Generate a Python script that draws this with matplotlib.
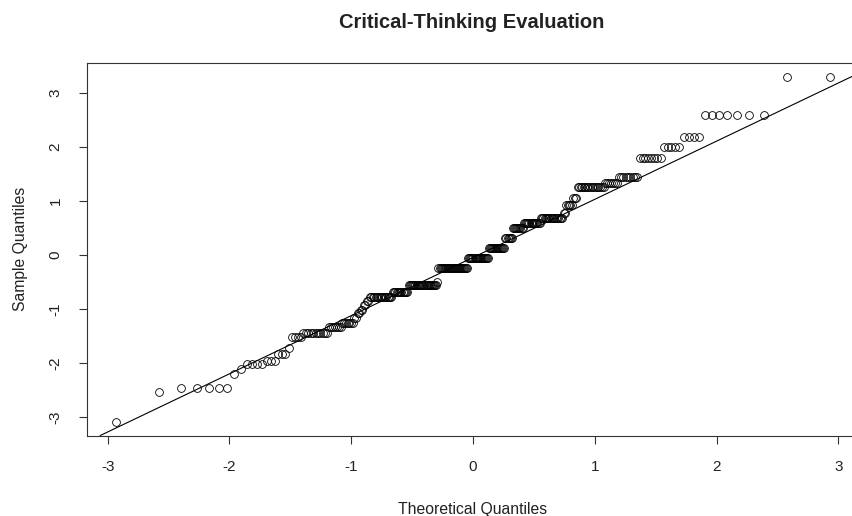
import numpy as np
import matplotlib
matplotlib.use("Agg")
import matplotlib.pyplot as plt
from statistics import NormalDist

matplotlib.rcParams["font.family"] = ["Liberation Sans", "DejaVu Sans"]

# standardized critical-thinking scores: distinct values and how often each occurs
score_levels = [-3.08, -2.53, -2.45, -2.20, -2.10, -2.01, -1.96, -1.83, -1.72, -1.51,
                -1.44, -1.33, -1.26, -1.16, -1.08, -1.02, -0.93, -0.85, -0.77, -0.68,
                -0.55, -0.50, -0.24, -0.06, 0.13, 0.31, 0.50, 0.59, 0.68, 0.77,
                0.92, 1.06, 1.25, 1.33, 1.44, 1.80, 2.00, 2.18, 2.58, 3.30]
score_counts = [1, 1, 5, 1, 1, 4, 3, 3, 1, 4,
                11, 7, 7, 2, 2, 2, 2, 2, 17, 13,
                26, 1, 29, 20, 16, 7, 10, 15, 18, 2,
                5, 3, 17, 7, 9, 8, 5, 4, 7, 2]
x_ticks = [-3, -2, -1, 0, 1, 2, 3]
y_ticks = [-3, -2, -1, 0, 1, 2, 3]

sample = np.sort(np.repeat(score_levels, score_counts))
n = len(sample)

# normal scores like R's qqnorm (ppoints with a = 1/2)
nd = NormalDist()
probs = (np.arange(1, n + 1) - 0.5) / n
theo = np.array([nd.inv_cdf(p) for p in probs])

# qqline through the first and third quartiles
q1, q3 = np.percentile(sample, [25, 75])
z1, z3 = nd.inv_cdf(0.25), nd.inv_cdf(0.75)
slope = (q3 - q1) / (z3 - z1)
intercept = q1 - slope * z1

fig = plt.figure(figsize=(8.53, 5.16), dpi=100)
ax = fig.add_axes([0.102, 0.156, 0.905, 0.7225])

ax.plot(theo, sample, linestyle="none", marker="o", markersize=5.6,
        markerfacecolor="none", markeredgecolor="black", markeredgewidth=0.6)
ax.axline((0, intercept), slope=slope, color="black", linewidth=0.8)

# R-style 4% padding around the data
def padded(lo, hi):
    d = (hi - lo) * 0.04
    return lo - d, hi + d

ax.set_xlim(*padded(theo.min(), theo.max()))
ax.set_ylim(*padded(sample.min(), sample.max()))

ax.set_xticks(x_ticks)
ax.set_yticks(y_ticks)
ax.set_xticklabels([str(t) for t in x_ticks])
ax.set_yticklabels([str(t) for t in y_ticks], rotation=90, va="center")
ax.tick_params(direction="out", length=6, width=0.8, color="#333333",
               labelsize=11, labelcolor="#222222", pad=11.5)

for s in ax.spines.values():
    s.set_linewidth(0.8)
    s.set_color("#333333")

ax.set_xlabel("Theoretical Quantiles", fontsize=11.3, color="#222222", labelpad=20)
ax.set_ylabel("Sample Quantiles", fontsize=11.3, color="#222222", labelpad=15)
fig.suptitle("Critical-Thinking Evaluation", x=0.553, y=0.957, va="center",
             fontsize=14.5, fontweight="bold", color="#222222")

fig.savefig("out.png", dpi=100)
